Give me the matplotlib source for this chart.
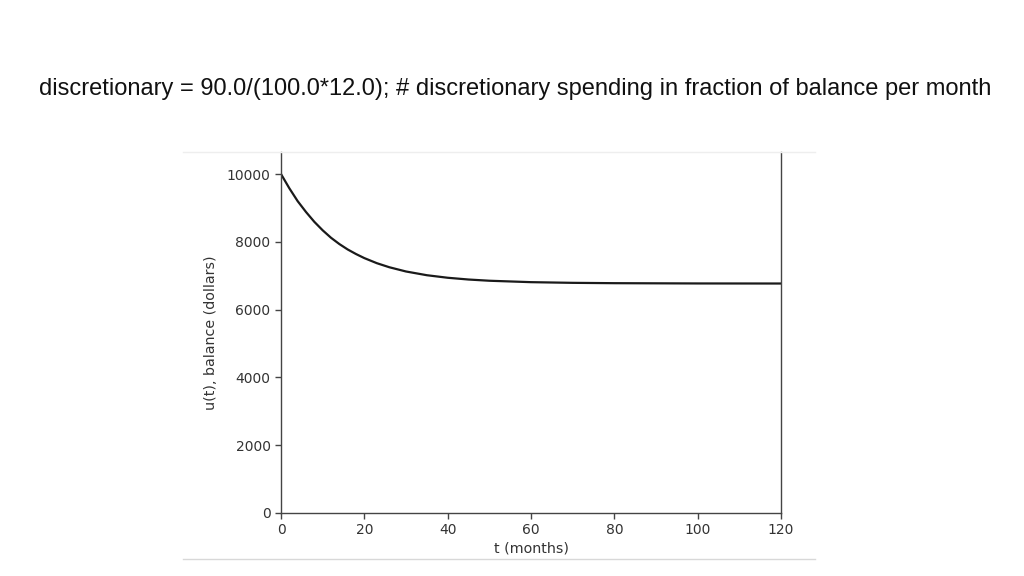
import matplotlib.pyplot as plt
from matplotlib.lines import Line2D

# balance (months, dollars)
months = [0, 2, 4, 6, 8, 10, 12, 14, 16, 18, 20, 23, 26, 30, 35, 40, 45, 50,
          60, 70, 80, 100, 120]
balance = [10000, 9580, 9200, 8880, 8590, 8340, 8120, 7935, 7775, 7640, 7520,
           7370, 7250, 7125, 7015, 6940, 6888, 6852, 6810, 6790, 6780, 6772,
           6770]

x_ticks = [0, 20, 40, 60, 80, 100, 120]
y_ticks = [0, 2000, 4000, 6000, 8000, 10000]

title = ("discretionary = 90.0/(100.0*12.0); # discretionary spending "
         "in fraction of balance per month")

fig = plt.figure(figsize=(10.24, 5.76), dpi=100)

# faint edges of the pasted plot image
fig.add_artist(Line2D([183 / 1024, 815 / 1024], [1 - 152 / 576] * 2,
                      color='#eeeeee', lw=1))
fig.add_artist(Line2D([183 / 1024, 815 / 1024], [1 - 559 / 576] * 2,
                      color='#d8d8d8', lw=1))

ax = fig.add_axes([281 / 1024, 1 - 513 / 576, 500 / 1024, (513 - 152) / 576])
ax.plot(months, balance, color='#1a1a1a', lw=1.6)

ax.set_xlim(0, 120)
ax.set_ylim(0, 10650)
ax.set_xticks(x_ticks)
ax.set_yticks(y_ticks)
ax.spines['top'].set_visible(False)
for s in ['left', 'bottom', 'right']:
    ax.spines[s].set_color('#444444')
    ax.spines[s].set_linewidth(1.0)
ax.tick_params(colors='#444444', labelcolor='#333333', labelsize=10,
               length=4, width=1.0)
ax.set_xlabel('t (months)', fontsize=10.3, color='#333333', labelpad=3)
ax.set_ylabel('u(t), balance (dollars)', fontsize=10.3, color='#333333',
              labelpad=6)

# slide title, stretched to the reference width
t = fig.text(515 / 1024, 1 - 89 / 576, title, ha='center', va='center',
             family=['Liberation Sans Narrow', 'Liberation Sans'],
             fontsize=16, color='#111111')
fig.canvas.draw()
w = t.get_window_extent().width
t.set_fontsize(16 * 954 / w)

fig.savefig('out.png', dpi=100)
